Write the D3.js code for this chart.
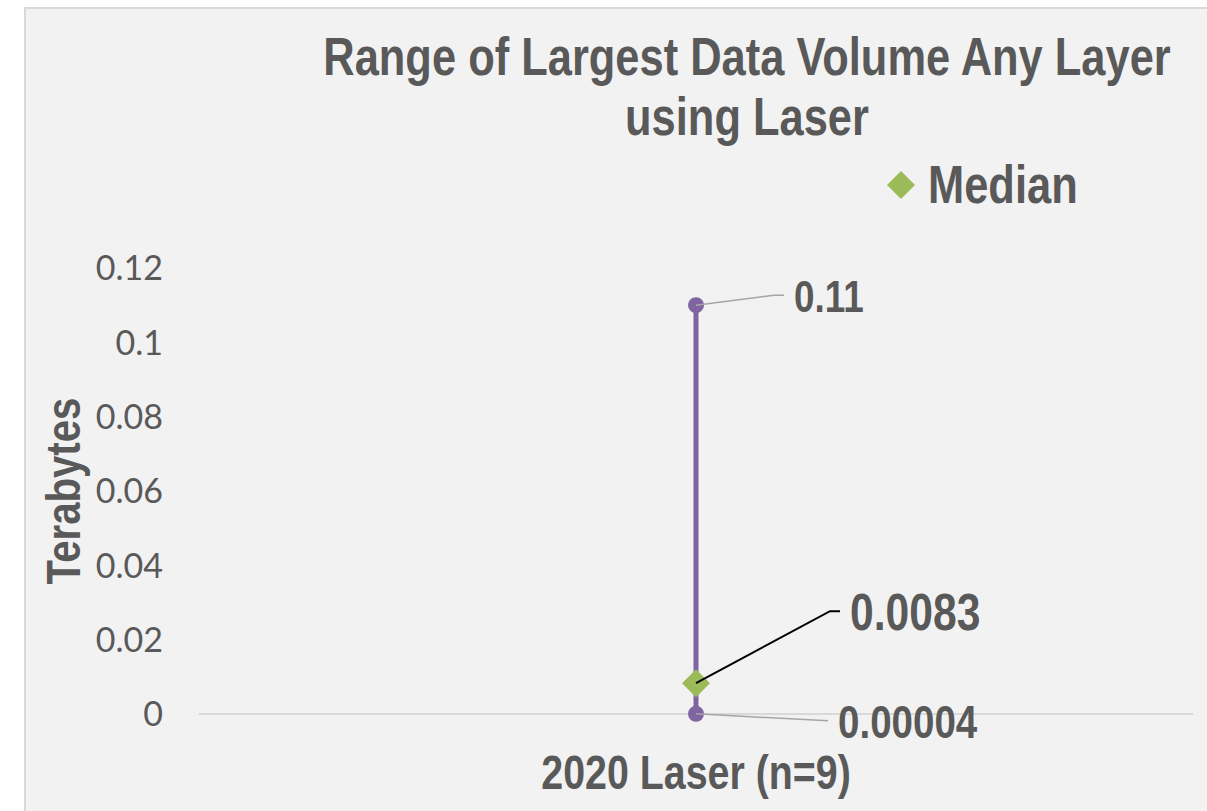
<!DOCTYPE html>
<html>
<head>
<meta charset="utf-8">
<script src="https://cdn.jsdelivr.net/npm/d3@7"></script>
<style>
  html, body { margin: 0; padding: 0; background: #ffffff; }
  svg { display: block; }
  text.bold { font-family: "Liberation Sans", Arial, sans-serif; font-weight: bold; fill: #595959; }
  text.num { font-family: Lato, "Open Sans", sans-serif; fill: #595959; }
</style>
</head>
<body>
<svg id="chart" width="1207" height="811"></svg>
<script>
// Chart data
const categories = ["2020 Laser (n=9)"];
const maxValues = [0.11];
const minValues = [0.00004];
const medianValues = [0.0083];
const maxLabels = ["0.11"];
const minLabels = ["0.00004"];
const medianLabels = ["0.0083"];
const yTicks = [0, 0.02, 0.04, 0.06, 0.08, 0.1, 0.12];
const yTickLabels = ["0", "0.02", "0.04", "0.06", "0.08", "0.1", "0.12"];

const W = 1207, H = 811;
const NARROW = 0.82; // horizontal squeeze to get a narrow bold face
const svg = d3.select("#chart");

// Bold narrow text placed at (x, y), optionally rotated
function narrowText(parent, x, y, str, size, anchor = "start", rotate = 0) {
  return parent.append("text").attr("class", "bold")
    .attr("transform", `translate(${x},${y}) rotate(${rotate}) scale(${NARROW},1)`)
    .attr("text-anchor", anchor)
    .attr("font-size", size)
    .text(str);
}

// Chart area background and border
svg.append("rect")
  .attr("x", 25).attr("y", 8)
  .attr("width", W - 24).attr("height", H - 7)
  .attr("fill", "#f2f2f2")
  .attr("stroke", "#d9d9d9").attr("stroke-width", 2);

const plot = { left: 199, right: 1193, top: 268, bottom: 714 };

const x = d3.scaleBand().domain(categories).range([plot.left, plot.right]);
const y = d3.scaleLinear().domain([0, 0.12]).range([plot.bottom, plot.top]);

// Y axis labels
const yAxis = d3.axisLeft(y)
  .tickValues(yTicks)
  .tickFormat((d, i) => yTickLabels[i])
  .tickSize(0).tickPadding(36);
const gy = svg.append("g")
  .attr("transform", `translate(${plot.left},0)`)
  .call(yAxis);
gy.select(".domain").remove();
gy.selectAll(".tick text").attr("class", "num").attr("font-size", 34).attr("dy", "0.35em");

// Baseline
svg.append("line")
  .attr("x1", plot.left).attr("x2", plot.right)
  .attr("y1", y(0)).attr("y2", y(0))
  .attr("stroke", "#d9d9d9").attr("stroke-width", 2);

// Category labels
categories.forEach(c => {
  narrowText(svg, x(c) + x.bandwidth() / 2, plot.bottom + 75, c, 48, "middle");
});

// Range lines, end markers, median diamonds and data labels
categories.forEach((c, i) => {
  const cx = x(c) + x.bandwidth() / 2;
  svg.append("line")
    .attr("x1", cx).attr("x2", cx)
    .attr("y1", y(minValues[i])).attr("y2", y(maxValues[i]))
    .attr("stroke", "#8064a2").attr("stroke-width", 5);
  [maxValues[i], minValues[i]].forEach(v => {
    svg.append("circle").attr("cx", cx).attr("cy", y(v)).attr("r", 8).attr("fill", "#8064a2");
  });
  svg.append("path")
    .attr("d", d3.symbol(d3.symbolDiamond2, 500)())
    .attr("transform", `translate(${cx},${y(medianValues[i])})`)
    .attr("fill", "#9bbb59");

  const callouts = [
    { v: maxValues[i], text: maxLabels[i], dx: 78, dy: -10, tail: 10, color: "#a6a6a6", w: 1.5, size: 45, base: 17 },
    { v: medianValues[i], text: medianLabels[i], dx: 134, dy: -72, tail: 10, color: "#000000", w: 2, size: 52, base: 19 },
    { v: minValues[i], text: minLabels[i], dx: 132, dy: 7, tail: 0, color: "#a6a6a6", w: 1.5, size: 47, base: 17 }
  ];
  callouts.forEach(co => {
    const py = y(co.v);
    const ex = cx + co.dx, ey = py + co.dy;
    svg.append("path")
      .attr("d", `M${cx},${py}L${ex},${ey}L${ex + co.tail},${ey}`)
      .attr("fill", "none").attr("stroke", co.color).attr("stroke-width", co.w);
    narrowText(svg, ex + co.tail + 10, ey + co.base, co.text, co.size);
  });
});

// Title
narrowText(svg, 747, 75, "Range of Largest Data Volume Any Layer", 53, "middle");
narrowText(svg, 747, 135, "using Laser", 53, "middle");

// Legend
const legend = svg.append("g").attr("transform", "translate(901,185)");
legend.append("path").attr("d", d3.symbol(d3.symbolDiamond2, 500)()).attr("fill", "#9bbb59");
narrowText(legend, 27, 18, "Median", 53);

// Y axis title
narrowText(svg, 80, (plot.top + plot.bottom) / 2, "Terabytes", 49, "middle", -90);
</script>
</body>
</html>
